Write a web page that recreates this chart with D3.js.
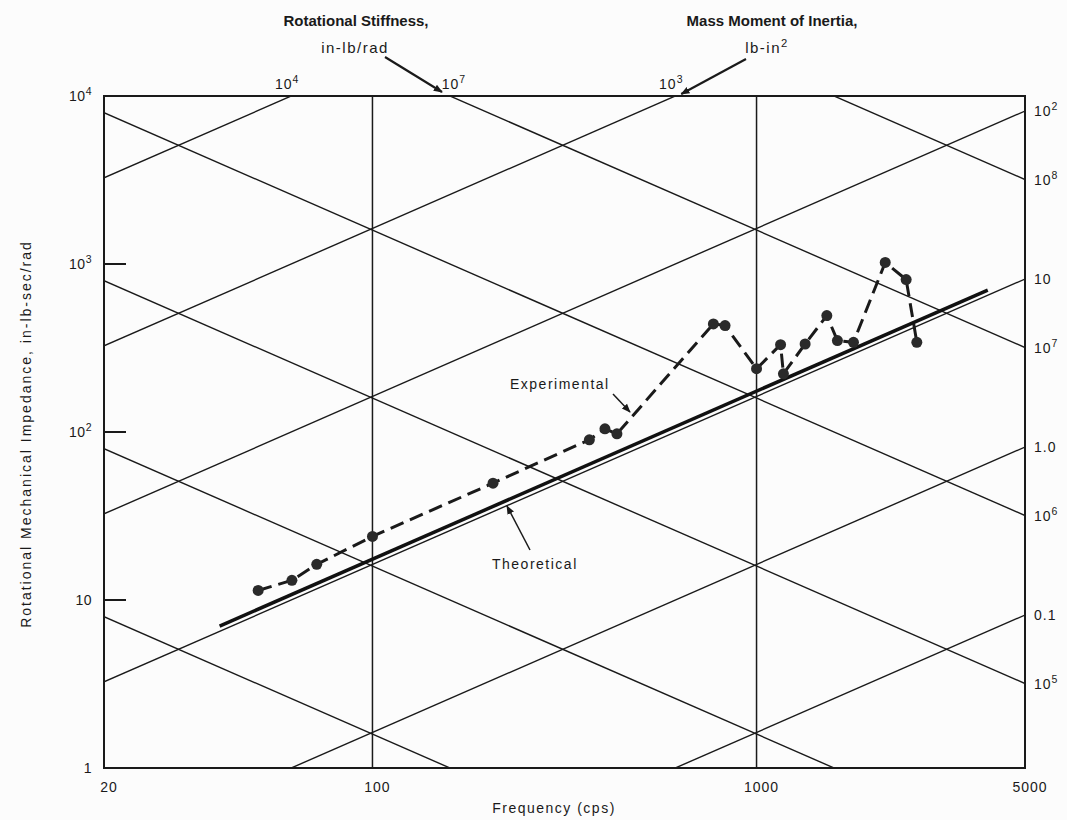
<!DOCTYPE html>
<html>
<head>
<meta charset="utf-8">
<script src="https://cdn.jsdelivr.net/npm/d3@7"></script>
<style>
  html, body { margin: 0; padding: 0; background: #fcfcfc; }
  svg { display: block; font-family: "Liberation Sans", Arial, sans-serif; }
  text { fill: #1a1a1a; }
</style>
</head>
<body>
<svg id="chart" width="1067" height="820"></svg>
<script>
// Axis ticks
const freqTicks = [20, 100, 1000, 5000];
const freqGrid = [100, 1000];
const impedanceTicks = [1, 10, 100, 1000, 10000];
const impedanceTickText = ["1", "10", "10^2", "10^3", "10^4"];
const impedanceMinorMarks = [10, 100, 1000];

// Constant-parameter reference lines
const inertiaValues = [0.1, 1, 10, 100, 1000, 10000];      // lb-in^2
const stiffnessValues = [1e3, 1e4, 1e5, 1e6, 1e7, 1e8];     // in-lb/rad
const inertiaRightValues = [100, 10, 1, 0.1];
const inertiaRightText = ["10^2", "10", "1.0", "0.1"];
const stiffnessRightValues = [1e8, 1e7, 1e6, 1e5];
const stiffnessRightText = ["10^8", "10^7", "10^6", "10^5"];
const inertiaTopValues = [10000, 1000];
const inertiaTopText = ["10^4", "10^3"];
const stiffnessTopValues = [1e7];
const stiffnessTopText = ["10^7"];

// Measured impedance
const expFreq = [50.4, 61.7, 71.6, 100, 206, 367, 403, 433, 772, 828, 1000, 1155, 1175, 1338, 1524, 1624, 1788, 2163, 2452, 2614];
const expImp  = [11.4, 13.1, 16.3, 23.9, 49.6, 89.9, 104.5, 97.6, 440, 430, 238, 331, 222, 334, 493, 350, 342, 1021, 808, 342];

// Theoretical impedance
const theoFreq = [40, 4000];
const theoImp = [7.0, 700];

const G = 386; // in/s^2
const inertiaZ = (I, f) => 2 * Math.PI * f * I / G;
const stiffnessZ = (K, f) => K / (2 * Math.PI * f);

const svg = d3.select("#chart");
const plot = { left: 104, right: 1025, top: 96, bottom: 768 };

const x = d3.scaleLog().domain([20, 5000]).range([plot.left, plot.right]);
const y = d3.scaleLog().domain([1, 10000]).range([plot.bottom, plot.top]);

const ink = "#1a1a1a";

function supText(sel, str, supSize) {
  const parts = str.split("^");
  sel.append("tspan").text(parts[0]);
  if (parts[1]) {
    sel.append("tspan").attr("dy", -6).attr("font-size", supSize || "0.75em").text(parts[1]);
  }
  return sel;
}

svg.append("defs").append("clipPath").attr("id", "plotClip")
  .append("rect")
  .attr("x", plot.left).attr("y", plot.top)
  .attr("width", plot.right - plot.left).attr("height", plot.bottom - plot.top);

const defs = svg.select("defs");
defs.append("marker")
  .attr("id", "arrow")
  .attr("viewBox", "0 0 10 10")
  .attr("refX", 9).attr("refY", 5)
  .attr("markerWidth", 9).attr("markerHeight", 9)
  .attr("markerUnits", "userSpaceOnUse")
  .attr("orient", "auto")
  .append("path").attr("d", "M0,1 L10,5 L0,9 Z").attr("fill", ink);

const grid = svg.append("g").attr("clip-path", "url(#plotClip)");

// Rising lines: constant mass moment of inertia
grid.selectAll("line.inertia").data(inertiaValues).join("line")
  .attr("class", "inertia")
  .attr("x1", x(20)).attr("y1", I => y(inertiaZ(I, 20)))
  .attr("x2", x(5000)).attr("y2", I => y(inertiaZ(I, 5000)))
  .attr("stroke", ink).attr("stroke-width", 1.4);

// Falling lines: constant rotational stiffness
grid.selectAll("line.stiff").data(stiffnessValues).join("line")
  .attr("class", "stiff")
  .attr("x1", x(20)).attr("y1", K => y(stiffnessZ(K, 20)))
  .attr("x2", x(5000)).attr("y2", K => y(stiffnessZ(K, 5000)))
  .attr("stroke", ink).attr("stroke-width", 1.4);

// Vertical decade lines
grid.selectAll("line.vgrid").data(freqGrid).join("line")
  .attr("x1", d => x(d)).attr("x2", d => x(d))
  .attr("y1", plot.top).attr("y2", plot.bottom)
  .attr("stroke", ink).attr("stroke-width", 1.5);

// Frame
svg.append("rect")
  .attr("x", plot.left).attr("y", plot.top)
  .attr("width", plot.right - plot.left).attr("height", plot.bottom - plot.top)
  .attr("fill", "none").attr("stroke", ink).attr("stroke-width", 2);

// Left tick marks
svg.selectAll("line.ytick").data(impedanceMinorMarks).join("line")
  .attr("x1", plot.left).attr("x2", plot.left + 22)
  .attr("y1", d => y(d)).attr("y2", d => y(d))
  .attr("stroke", ink).attr("stroke-width", 2);

// Left tick labels
impedanceTicks.forEach((v, i) => {
  const t = svg.append("text")
    .attr("x", plot.left - 12).attr("y", y(v) + 5)
    .attr("text-anchor", "end").attr("font-size", 14).attr("letter-spacing", 0.5);
  supText(t, impedanceTickText[i]);
});

// Bottom tick labels
svg.selectAll("text.xtick").data(freqTicks).join("text")
  .attr("x", d => x(d) + 5).attr("y", 792)
  .attr("text-anchor", "middle").attr("font-size", 14).attr("letter-spacing", 1)
  .text(d => d);

// Right edge labels
inertiaRightValues.forEach((v, i) => {
  const t = svg.append("text")
    .attr("x", plot.right + 9).attr("y", y(inertiaZ(v, 5000)) + 5)
    .attr("font-size", 14).attr("letter-spacing", 1);
  supText(t, inertiaRightText[i]);
});
stiffnessRightValues.forEach((v, i) => {
  const t = svg.append("text")
    .attr("x", plot.right + 9).attr("y", y(stiffnessZ(v, 5000)) + 5)
    .attr("font-size", 14).attr("letter-spacing", 1);
  supText(t, stiffnessRightText[i]);
});

// Top edge labels
const fAtTopInertia = I => 10000 * G / (2 * Math.PI * I);
const fAtTopStiff = K => K / (2 * Math.PI * 10000);
inertiaTopValues.forEach((v, i) => {
  const t = svg.append("text")
    .attr("x", x(fAtTopInertia(v)) - 4).attr("y", 89)
    .attr("text-anchor", "middle").attr("font-size", 14).attr("letter-spacing", 1);
  supText(t, inertiaTopText[i]);
});
stiffnessTopValues.forEach((v, i) => {
  const t = svg.append("text")
    .attr("x", x(fAtTopStiff(v)) + 4).attr("y", 89)
    .attr("text-anchor", "middle").attr("font-size", 14).attr("letter-spacing", 1);
  supText(t, stiffnessTopText[i]);
});

// Headings for the reference lines
svg.append("text").attr("x", 356).attr("y", 26).attr("text-anchor", "middle")
  .attr("font-size", 15).attr("font-weight", "bold").text("Rotational Stiffness,");
svg.append("text").attr("x", 355).attr("y", 53).attr("text-anchor", "middle")
  .attr("font-size", 15).attr("letter-spacing", 1.5).text("in-lb/rad");
svg.append("text").attr("x", 772).attr("y", 26).attr("text-anchor", "middle")
  .attr("font-size", 15).attr("font-weight", "bold").text("Mass Moment of Inertia,");
const massUnit = svg.append("text").attr("x", 767).attr("y", 53).attr("text-anchor", "middle")
  .attr("font-size", 15).attr("letter-spacing", 1.5);
supText(massUnit, "lb-in^2");

// Pointers from the headings to their top-edge values
const k7x = x(fAtTopStiff(1e7));
const i3x = x(fAtTopInertia(1000));
svg.append("line").attr("x1", 385).attr("y1", 57).attr("x2", k7x - 8).attr("y2", plot.top - 4)
  .attr("stroke", ink).attr("stroke-width", 2.2).attr("marker-end", "url(#arrow)");
svg.append("line").attr("x1", 746).attr("y1", 59).attr("x2", i3x + 6).attr("y2", plot.top - 2)
  .attr("stroke", ink).attr("stroke-width", 2.2).attr("marker-end", "url(#arrow)");

// Theoretical curve
const line = d3.line().x(d => x(d[0])).y(d => y(d[1]));
svg.append("path")
  .datum(theoFreq.map((f, i) => [f, theoImp[i]]))
  .attr("d", line)
  .attr("fill", "none").attr("stroke", "#111").attr("stroke-width", 3.5);

// Experimental curve
const expData = expFreq.map((f, i) => [f, expImp[i]]);
svg.append("path")
  .datum(expData)
  .attr("d", line)
  .attr("fill", "none").attr("stroke", "#1a1a1a").attr("stroke-width", 3)
  .attr("stroke-dasharray", "14,7");
svg.selectAll("circle.exp").data(expData).join("circle")
  .attr("class", "exp")
  .attr("cx", d => x(d[0])).attr("cy", d => y(d[1]))
  .attr("r", 5.5).attr("fill", "#2a2a2a");

// Curve labels
svg.append("text").attr("x", 510).attr("y", 389)
  .attr("font-size", 14).attr("letter-spacing", 1.5).text("Experimental");
svg.append("line").attr("x1", 613).attr("y1", 394).attr("x2", 630).attr("y2", 412)
  .attr("stroke", ink).attr("stroke-width", 1.5).attr("marker-end", "url(#arrow)");
svg.append("text").attr("x", 492).attr("y", 569)
  .attr("font-size", 14).attr("letter-spacing", 1.5).text("Theoretical");
svg.append("line").attr("x1", 530).attr("y1", 550).attr("x2", 507).attr("y2", 506)
  .attr("stroke", ink).attr("stroke-width", 1.5).attr("marker-end", "url(#arrow)");

// Axis titles
svg.append("text").attr("x", 554).attr("y", 813).attr("text-anchor", "middle")
  .attr("font-size", 14).attr("letter-spacing", 1.5).text("Frequency (cps)");
svg.append("text")
  .attr("transform", "translate(31,434) rotate(-90)")
  .attr("text-anchor", "middle").attr("font-size", 14).attr("letter-spacing", 2)
  .text("Rotational Mechanical Impedance, in-lb-sec/rad");
</script>
</body>
</html>
